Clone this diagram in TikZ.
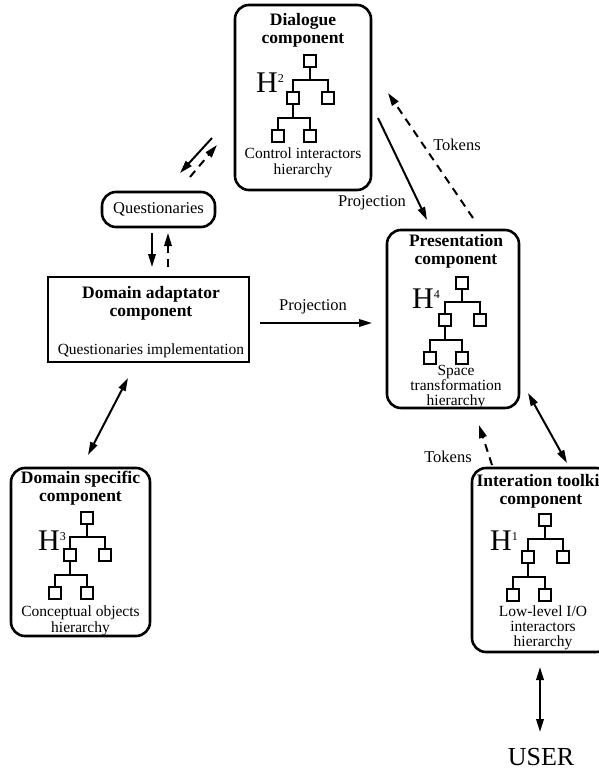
\documentclass[tikz,border=0pt]{standalone}
\usepackage{fontspec}
\setmainfont{Liberation Serif}
\usetikzlibrary{arrows.meta}

% small hierarchy tree, #1 = x of lower left square, #2 = y of top square
\newcommand{\hiertree}[2]{%
\begin{scope}[shift={(#1,#2)}, line width=2.4pt]
\draw (26,-6) rectangle (38,6);
\draw (32,6) -- (32,19);
\draw (15,31) -- (15,19) -- (50,19) -- (50,31);
\draw (9,31) rectangle (21,43);
\draw (44,31) rectangle (56,43);
\draw (15,43) -- (15,57);
\draw (0,69) -- (0,57) -- (32,57) -- (32,69);
\draw (-6,69) rectangle (6,81);
\draw (26,69) rectangle (38,81);
\end{scope}}

\begin{document}
\begin{tikzpicture}[x=1pt, y=-1pt,
  compbox/.style={draw, line width=2.6pt, rounded corners=14pt, inner sep=0pt},
  ttl/.style={font=\fontsize{17.5}{18}\selectfont\bfseries, align=center, inner sep=0pt},
  txt/.style={font=\fontsize{15.5}{15.5}\selectfont, align=center, inner sep=0pt},
  lbl/.style={font=\fontsize{16.5}{17}\selectfont, inner sep=0pt},
  bigh/.style={font=\fontsize{30}{30}\selectfont, anchor=base west, inner sep=0pt},
  arr/.style={line width=2pt, -{Triangle[length=13pt,width=7.5pt]}},
  darr/.style={line width=2pt, {Triangle[length=13pt,width=7.5pt]}-{Triangle[length=13pt,width=7.5pt]}},
  tok/.style={arr, dash pattern=on 8pt off 6pt}]
\clip (0,0) rectangle (599,771);

% Dialogue component
\node[compbox, minimum width=136pt, minimum height=185pt] (dlg) at (303,97.5) {};
\node[ttl] (dlgt) at (303,30) {Dialogue\\component};
\node[bigh] (dlgh) at (256,92) {H\raisebox{10pt}{\fontsize{12}{12}\selectfont 2}};
\hiertree{278}{61}
\node[txt] (dlgb) at (303,163) {Control interactors\\hierarchy};

% Questionaries
\node[compbox, minimum width=113pt, minimum height=35pt] (qst) at (158.5,209.5) {};
\node[lbl] (qstt) at (158.5,209.5) {Questionaries};

% Domain adaptator component
\node[draw, line width=2.6pt, minimum width=201pt, minimum height=85pt, inner sep=0pt] (ada) at (148.5,319.5) {};
\node[ttl] (adat) at (151,303.5) {Domain adaptator\\component};
\node[txt] (adab) at (151,351) {Questionaries implementation};

% Presentation component
\node[compbox, minimum width=132pt, minimum height=178pt] (pre) at (453,319) {};
\node[ttl] (pret) at (456,251.5) {Presentation\\component};
\node[bigh] (preh) at (412,308) {H\raisebox{10pt}{\fontsize{12}{12}\selectfont 4}};
\hiertree{430}{283}
\node[txt, font=\fontsize{15.5}{15}\selectfont] (preb) at (456,387) {Space\\transformation\\hierarchy};

% Domain specific component
\node[compbox, minimum width=139pt, minimum height=168pt] (dsp) at (80.5,552) {};
\node[ttl] (dspt) at (80.5,488) {Domain specific\\component};
\node[bigh] (dsph) at (38,550) {H\raisebox{10pt}{\fontsize{12}{12}\selectfont 3}};
\hiertree{55}{518}
\node[txt] (dspb) at (80.5,621) {Conceptual objects\\hierarchy};

% Interation toolkit component
\node[compbox, minimum width=138pt, minimum height=184pt] (itk) at (541,560) {};
\node[ttl] (itkt) at (541,491.5) {Interation toolkit\\component};
\node[bigh] (itkh) at (490,550) {H\raisebox{10pt}{\fontsize{12}{12}\selectfont 1}};
\hiertree{513}{520}
\node[txt, font=\fontsize{15.5}{15}\selectfont] (itkb) at (543,628) {Low-level I/O\\interactors\\hierarchy};

\node[font=\fontsize{26}{26}\selectfont, inner sep=0pt] (usr) at (541,757) {USER};

% connector ends
\coordinate (dq1) at (212,138); \coordinate (dq2) at (180,173);
\coordinate (qd1) at (190,177); \coordinate (qd2) at (217,145);
\coordinate (qa1) at (152,233); \coordinate (qa2) at (152,267);
\coordinate (aq1) at (168,267); \coordinate (aq2) at (168,233);
\coordinate (ap1) at (260,323); \coordinate (ap2) at (372,323);
\coordinate (dp1) at (378,118); \coordinate (dp2) at (427,220);
\coordinate (pd1) at (473,218); \coordinate (pd2) at (388,93);
\coordinate (ip1) at (492,465); \coordinate (ip2) at (479,425);
\coordinate (pi1) at (528,393); \coordinate (pi2) at (567,463);
\coordinate (as1) at (128,378); \coordinate (as2) at (88,455);
\coordinate (iu1) at (540,667); \coordinate (iu2) at (540,732);

\draw[arr] (dq1) -- (dq2);
\draw[tok] (qd1) -- (qd2);
\draw[arr] (qa1) -- (qa2);
\draw[tok] (aq1) -- (aq2);
\draw[arr] (ap1) -- (ap2);
\draw[arr] (dp1) -- (dp2);
\draw[tok] (pd1) -- (pd2);
\draw[tok] (ip1) -- (ip2);
\draw[darr] (pi1) -- (pi2);
\draw[darr] (as1) -- (as2);
\draw[darr] (iu1) -- (iu2);

\node[lbl] (prj1) at (313,307) {Projection};
\node[lbl] (prj2) at (372,203) {Projection};
\node[lbl] (tok1) at (457,145) {Tokens};
\node[lbl] (tok2) at (448,457) {Tokens};
\end{tikzpicture}
\end{document}
